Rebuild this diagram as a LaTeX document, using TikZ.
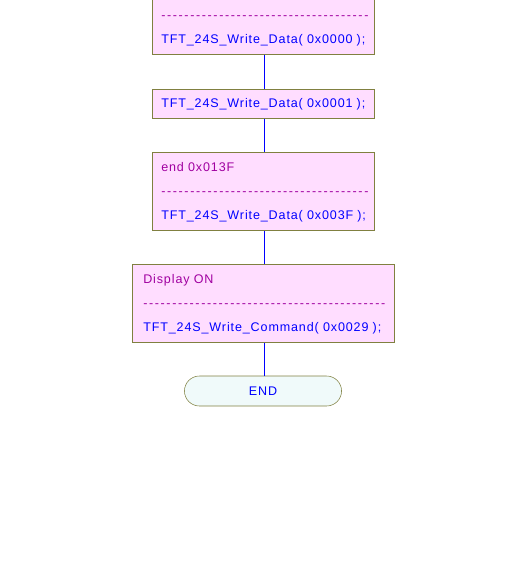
\documentclass[tikz,border=0pt]{standalone}
\usepackage{fontspec}
\setmainfont[LetterSpace=7]{Liberation Sans}
\usepackage{xcolor}
\usetikzlibrary{positioning,shapes.misc}
\definecolor{boxfill}{RGB}{255,221,255}
\definecolor{boxline}{RGB}{128,128,64}
\definecolor{endfill}{RGB}{240,250,250}
\definecolor{labelc}{RGB}{160,0,160}
\definecolor{codec}{RGB}{0,0,255}
\tikzset{
  stepbox/.style={rectangle, draw=boxline, fill=boxfill, anchor=north west,
                  align=left, inner xsep=6.75pt, inner ysep=0pt,
                  font=\fontsize{9.4}{18}\selectfont},
  endbox/.style={rounded rectangle, draw=boxline, fill=endfill,
                 minimum width=166*0.75pt, minimum height=30*0.75pt,
                 font=\fontsize{9.4}{18}\selectfont, text=codec},
  flowline/.style={draw=blue, line width=0.75pt},
}
\newcommand{\lbl}[1]{\mbox{\textcolor{labelc}{#1}}}
\newcommand{\code}[1]{\mbox{\textcolor{codec}{#1}}}
\newcommand{\dashrow}[1]{\mbox{\textcolor{labelc}{\foreach \i in {1,...,#1}{\makebox[4.35pt][l]{-}}}}}
\newcommand{\topgap}[1]{\rule{0pt}{#1}}
\newcommand{\botgap}{\rule[-7.9pt]{0pt}{0pt}}
\begin{document}
\begin{tikzpicture}[x=0.75pt,y=-0.75pt]
  \useasboundingbox (0,0) rectangle (528,577);
  \clip (0,0) rectangle (528,577);
  \coordinate (spine) at (264.5,0);
  % boxes
  \node[stepbox, text width=204*0.75pt, minimum width=222*0.75pt] (zero) at (152,-24)
       {\topgap{14.6pt}\\ \dashrow{36}\\ \code{TFT\_24S\_Write\_Data( 0x0000 );}\botgap};
  \node[stepbox, text width=204*0.75pt, minimum width=222*0.75pt] (one) at (152,89)
       {\topgap{13.9pt}\code{TFT\_24S\_Write\_Data( 0x0001 );}\botgap};
  \node[stepbox, text width=204*0.75pt, minimum width=222*0.75pt] (last) at (152,152)
       {\topgap{14.6pt}\lbl{end 0x013F}\\ \dashrow{36}\\ \code{TFT\_24S\_Write\_Data( 0x003F );}\botgap};
  \node[stepbox, inner xsep=8.25pt, text width=240*0.75pt, minimum width=262*0.75pt] (disp) at (132,264)
       {\topgap{14.6pt}\lbl{Display ON}\\ \dashrow{42}\\ \code{TFT\_24S\_Write\_Command( 0x0029 );}\botgap};
  \node[endbox] (end) at (263,391) {END};
  % connectors
  \draw[flowline] (zero.south -| spine) -- (one.north -| spine);
  \draw[flowline] (one.south -| spine) -- (last.north -| spine);
  \draw[flowline] (last.south -| spine) -- (disp.north -| spine);
  \draw[flowline] (disp.south -| spine) -- (end.north -| spine);
\end{tikzpicture}
\end{document}
